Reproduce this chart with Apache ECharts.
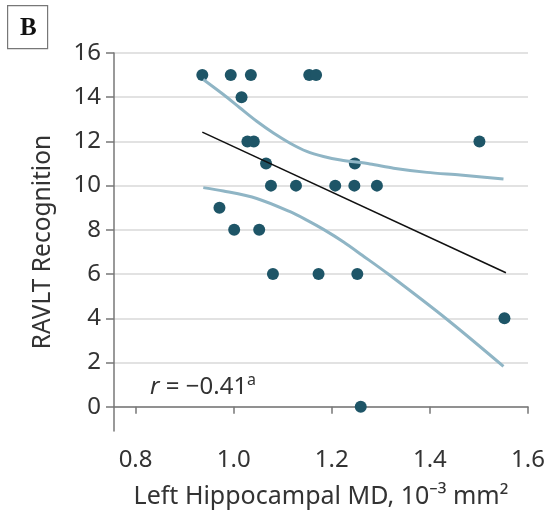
<!DOCTYPE html>
<html><head><meta charset="utf-8">
<script src="https://cdn.jsdelivr.net/npm/echarts@6/dist/echarts.min.js"></script>
<style>html,body{margin:0;padding:0;background:#fff}#c{width:550px;height:512px}</style>
</head><body><div id="c"></div>
<script>
// Left hippocampal MD (10^-3 mm^2) vs RAVLT Recognition
const mdValues = [0.936, 0.994, 1.035, 1.154, 1.168, 1.016, 1.028, 1.041, 1.501, 1.066, 1.247,
  1.076, 1.127, 1.207, 1.246, 1.292, 0.971, 1.001, 1.052, 1.080, 1.173, 1.252, 1.552, 1.259];
const recognition = [15, 15, 15, 15, 15, 14, 12, 12, 12, 11, 11,
  10, 10, 10, 10, 10, 9, 8, 8, 6, 6, 6, 4, 0];
const fitX = [0.936, 1.555];
const fitY = [12.42, 6.06];
const upperX = [0.938, 0.979, 1.013, 1.047, 1.081, 1.115, 1.149, 1.183, 1.218, 1.278, 1.326, 1.394, 1.462, 1.550];
const upperY = [14.80, 14.12, 13.51, 12.91, 12.38, 11.92, 11.55, 11.32, 11.16, 10.98, 10.79, 10.60, 10.48, 10.30];
const lowerX = [0.938, 0.979, 1.047, 1.115, 1.149, 1.183, 1.224, 1.262, 1.315, 1.432, 1.550];
const lowerY = [9.91, 9.76, 9.42, 8.82, 8.44, 8.02, 7.45, 6.85, 6.00, 4.00, 1.82];
const xTicks = [0.8, 1.0, 1.2, 1.4, 1.6];
const yTicks = [0, 2, 4, 6, 8, 10, 12, 14, 16];
const xLabels = ['0.8', '1.0', '1.2', '1.4', '1.6'];

const zip = (a, b) => a.map((v, i) => [v, b[i]]);
const FONT = 'Noto Sans';
const chart = echarts.init(document.getElementById('c'), null, {renderer: 'canvas'});
chart.setOption({
  animation: false,
  grid: {left: 114, right: 22, top: 53, bottom: 81, containLabel: false, outerBoundsMode: 'none'},
  xAxis: {
    type: 'value', min: 0.756, max: 1.6,
    name: 'Left Hippocampal MD, 10⁻³ mm²', nameLocation: 'middle', nameGap: 53,
    nameTextStyle: {fontFamily: FONT, fontSize: 25, color: '#333'},
    axisLine: {show: true, lineStyle: {color: '#777', width: 1.5}},
    axisTick: {show: true, customValues: xTicks, length: 7, lineStyle: {color: '#777', width: 1.5}},
    axisLabel: {customValues: xTicks, fontFamily: FONT, fontSize: 24, color: '#333', margin: 17,
      formatter: v => xLabels[xTicks.findIndex(t => Math.abs(t - v) < 1e-6)] ?? v.toFixed(1)},
    splitLine: {show: false}
  },
  yAxis: {
    type: 'value', min: -1.1, max: 16,
    name: 'RAVLT Recognition', nameLocation: 'middle', nameGap: 58,
    nameTextStyle: {fontFamily: FONT, fontSize: 24.5, color: '#333'},
    axisLine: {show: true, lineStyle: {color: '#777', width: 1.5}},
    axisTick: {show: true, customValues: yTicks, length: 8, lineStyle: {color: '#777', width: 1.5}},
    axisLabel: {customValues: yTicks, fontFamily: FONT, fontSize: 24, color: '#333', margin: 13},
    splitLine: {show: true, lineStyle: {color: '#e2e2e2', width: 2}}
  },
  graphic: [
    {type: 'rect', left: 7, top: 5, shape: {width: 40, height: 43},
      style: {fill: '#fff', stroke: '#777', lineWidth: 1.2}},
    {type: 'text', left: 20, top: 16, style: {text: 'B', font: 'bold 25px "Liberation Serif", serif', fill: '#111'}},
    {type: 'text', left: 150, top: 372, style: {
      rich: {
        r: {fontFamily: FONT, fontStyle: 'italic', fontSize: 24, fill: '#333'},
        t: {fontFamily: FONT, fontSize: 24, fill: '#333'},
        s: {fontFamily: FONT, fontSize: 16, fill: '#333', padding: [0, 0, 14, 0]}
      },
      text: '{r|r}{t| = −0.41}{s|a}'
    }}
  ],
  series: [
    {type: 'line', data: zip(upperX, upperY), smooth: 0.3, symbol: 'none', silent: true,
      lineStyle: {color: '#8fb5c5', width: 3}},
    {type: 'line', data: zip(lowerX, lowerY), smooth: 0.3, symbol: 'none', silent: true,
      lineStyle: {color: '#8fb5c5', width: 3}},
    {type: 'line', data: zip(fitX, fitY), symbol: 'none', silent: true,
      lineStyle: {color: '#111', width: 1.6}},
    {type: 'scatter', data: zip(mdValues, recognition), symbolSize: 12,
      itemStyle: {color: '#1e5567', opacity: 1}}
  ]
});
</script></body></html>
